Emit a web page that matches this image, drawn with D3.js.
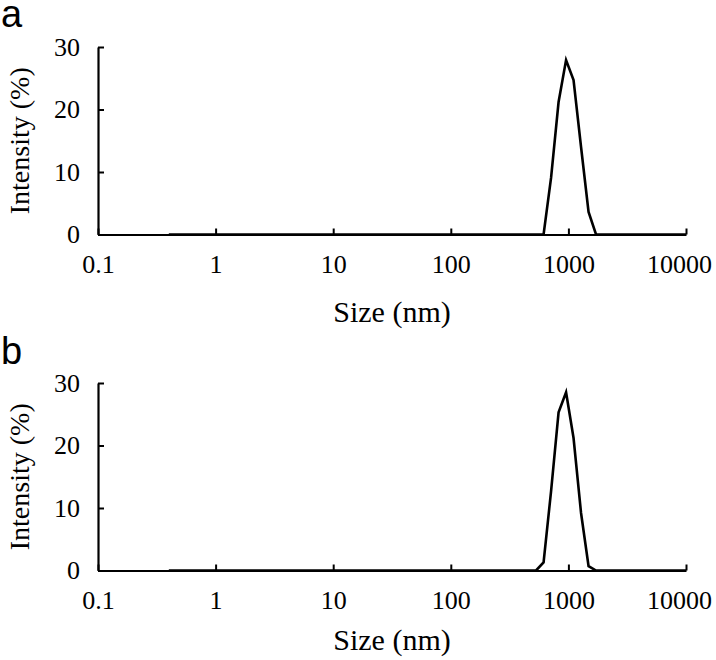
<!DOCTYPE html>
<html>
<head>
<meta charset="utf-8">
<script src="https://cdn.jsdelivr.net/npm/d3@7"></script>
<style>
  body { margin: 0; background: #fff; }
  svg { display: block; }
</style>
</head>
<body>
<div id="chart"></div>
<script>
// size bins (nm)
const sizes = [0.4, 0.4632, 0.5365, 0.6213, 0.7195, 0.8332, 0.9649, 1.117, 1.294, 1.499,
  1.736, 2.010, 2.328, 2.696, 3.122, 3.615, 4.187, 4.849, 5.615, 6.503,
  7.531, 8.721, 10.10, 11.70, 13.54, 15.69, 18.17, 21.04, 24.36, 28.21,
  32.67, 37.84, 43.82, 50.75, 58.77, 68.06, 78.82, 91.28, 105.7, 122.4,
  141.8, 164.2, 190.1, 220.2, 255.0, 295.3, 342.0, 396.1, 458.7, 531.2,
  615.1, 712.4, 825.0, 955.4, 1106, 1281, 1484, 1718, 1990, 2305,
  2669, 3091, 3580, 4145, 4801, 5560, 6439, 7456, 8635, 10000];

// intensity (%) per bin, panel a
const intensityA = [0, 0, 0, 0, 0, 0, 0, 0, 0, 0,
  0, 0, 0, 0, 0, 0, 0, 0, 0, 0,
  0, 0, 0, 0, 0, 0, 0, 0, 0, 0,
  0, 0, 0, 0, 0, 0, 0, 0, 0, 0,
  0, 0, 0, 0, 0, 0, 0, 0, 0, 0,
  0, 9.1, 21.2, 27.9, 24.7, 14.0, 3.6, 0, 0, 0,
  0, 0, 0, 0, 0, 0, 0, 0, 0, 0];

// intensity (%) per bin, panel b
const intensityB = [0, 0, 0, 0, 0, 0, 0, 0, 0, 0,
  0, 0, 0, 0, 0, 0, 0, 0, 0, 0,
  0, 0, 0, 0, 0, 0, 0, 0, 0, 0,
  0, 0, 0, 0, 0, 0, 0, 0, 0, 0,
  0, 0, 0, 0, 0, 0, 0, 0, 0, 0,
  1.3, 12.7, 25.3, 28.5, 21.2, 9.2, 0.7, 0, 0, 0,
  0, 0, 0, 0, 0, 0, 0, 0, 0, 0];

const xTicks = [0.1, 1, 10, 100, 1000, 10000];
const xTickLabels = ["0.1", "1", "10", "100", "1000", "10000"];
const yTicks = [0, 10, 20, 30];

const width = 716, height = 660;
const serif = "'Liberation Serif', 'Times New Roman', serif";

const svg = d3.select("#chart").append("svg")
  .attr("width", width)
  .attr("height", height);

function drawPanel(letter, values, top, bottom, letterY, titleOffset) {
  const x = d3.scaleLog().domain([0.1, 10000]).range([98, 686]);
  const y = d3.scaleLinear().domain([0, 30]).range([bottom, top]);

  const g = svg.append("g");

  // panel letter
  g.append("text")
    .attr("x", 1)
    .attr("y", letterY)
    .attr("font-family", "'Liberation Sans', Arial, sans-serif")
    .attr("font-size", 38)
    .text(letter);

  // x axis (ticks point inward)
  const xAxis = g.append("g")
    .attr("transform", "translate(0," + bottom + ")")
    .call(d3.axisBottom(x).tickValues(xTicks)
      .tickFormat((d, i) => xTickLabels[i])
      .tickSizeInner(-6).tickSizeOuter(0).tickPadding(20));
  xAxis.select(".domain").attr("stroke-width", 2.2);
  xAxis.selectAll(".tick line").attr("stroke-width", 2);
  xAxis.selectAll("text")
    .attr("font-family", serif)
    .attr("font-size", 26)
    .attr("fill", "#000");
  // last label sits a little left so it stays inside the page
  xAxis.selectAll(".tick text").filter(d => d === 10000).attr("x", -7);

  // y axis
  const yAxis = g.append("g")
    .attr("transform", "translate(98,0)")
    .call(d3.axisLeft(y).tickValues(yTicks)
      .tickSizeInner(-6).tickSizeOuter(0).tickPadding(18));
  yAxis.select(".domain").attr("stroke-width", 2.2);
  yAxis.selectAll(".tick line").attr("stroke-width", 2);
  yAxis.selectAll("text")
    .attr("font-family", serif)
    .attr("font-size", 26)
    .attr("fill", "#000");

  // axis titles
  g.append("text")
    .attr("x", 392)
    .attr("y", bottom + titleOffset)
    .attr("text-anchor", "middle")
    .attr("font-family", serif)
    .attr("font-size", 30)
    .text("Size (nm)");

  g.append("text")
    .attr("transform", "translate(29," + ((top + bottom) / 2) + ") rotate(-90)")
    .attr("text-anchor", "middle")
    .attr("font-family", serif)
    .attr("font-size", 28)
    .text("Intensity (%)");

  // distribution line
  const line = d3.line()
    .x((d, i) => x(sizes[i]))
    .y(d => y(d));

  g.append("path")
    .datum(values)
    .attr("fill", "none")
    .attr("stroke", "#000")
    .attr("stroke-width", 2.6)
    .attr("stroke-linejoin", "miter")
    .attr("d", line);
}

drawPanel("a", intensityA, 47, 234.5, 27, 87);
drawPanel("b", intensityB, 383, 570.5, 364, 79);
</script>
</body>
</html>
